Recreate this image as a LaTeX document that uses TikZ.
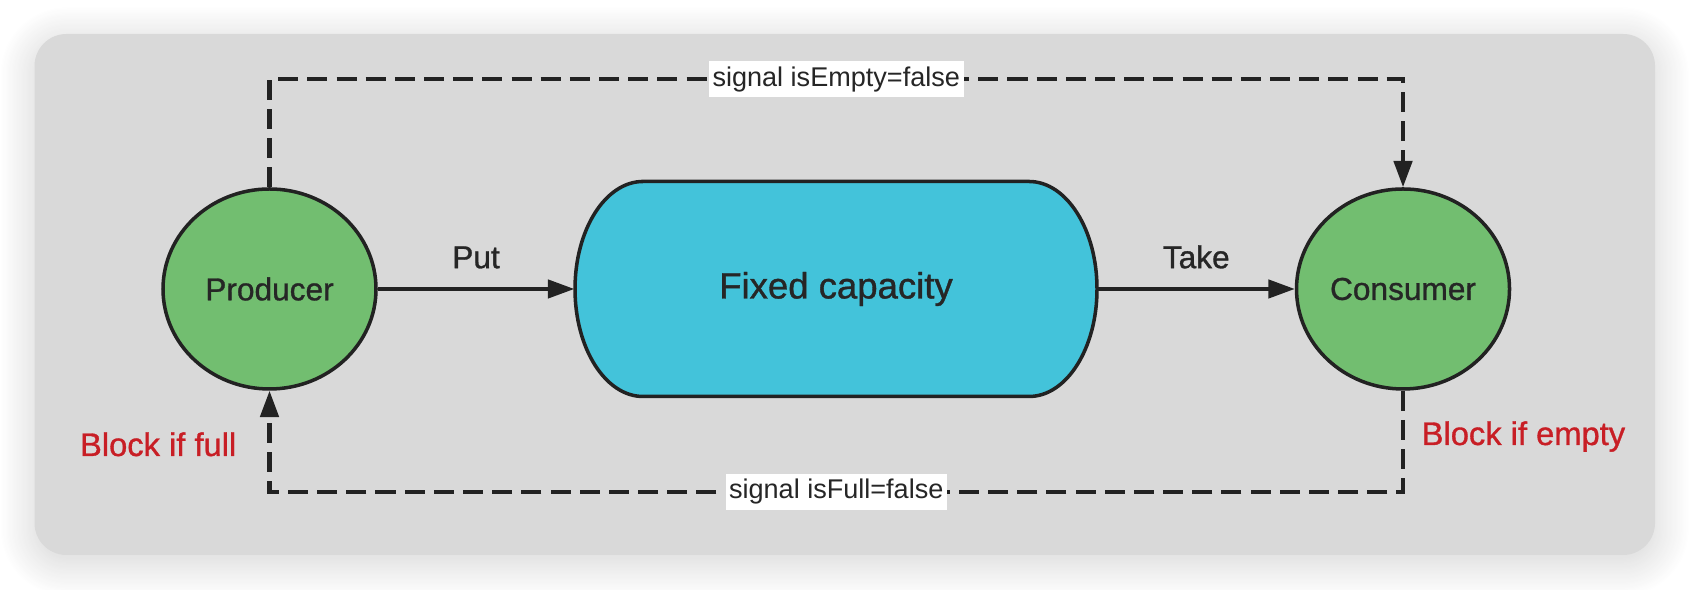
\documentclass[tikz,border=0pt]{standalone}
\usepackage{fontspec}
\setmainfont{Liberation Sans}
\newfontfamily\mediumfont{Liberation Sans}[FakeBold=1]
\usetikzlibrary{shapes.geometric,arrows.meta,shadows.blur}

\definecolor{bggrey}{HTML}{D9D9D9}
\definecolor{edge}{HTML}{222222}
\definecolor{txt}{HTML}{262626}
\definecolor{actorgreen}{HTML}{72BE70}
\definecolor{bufferblue}{HTML}{43C3DA}
\definecolor{warnred}{HTML}{C81E25}

\tikzset{
    actor/.style={ellipse, draw=edge, line width=1pt, fill=actorgreen,
        minimum width=2.13cm, minimum height=2cm, inner sep=0pt,
        text=txt, font=\mediumfont\fontsize{9}{11}\selectfont},
    bufferline/.style={draw=edge, line width=1pt, fill=bufferblue},
    flow/.style={draw=edge, line width=1pt, -{Triangle[length=7.5pt,width=5.2pt]}},
    signal/.style={draw=edge, line width=1.15pt, dash pattern=on 5.7pt off 2.6pt,
        -{Triangle[length=7.5pt,width=5.2pt]}},
    sigbox/.style={fill=white, text=txt, inner xsep=1pt, inner ysep=1.6pt,
        font=\fontsize{7.7}{9}\selectfont},
    edgetext/.style={text=txt, font=\mediumfont\fontsize{9}{11}\selectfont},
    blocktext/.style={text=warnred, inner sep=0pt, font=\mediumfont\fontsize{9.3}{11}\selectfont}
}

\begin{document}
\begin{tikzpicture}
    \useasboundingbox (0,0) rectangle (16.9,5.9);

    % Hintergrund mit Schatten
    \fill[bggrey, rounded corners=0.32cm,
        blur shadow={shadow xshift=0pt, shadow yshift=-2pt,
            shadow blur radius=10pt, shadow blur steps=30, shadow opacity=18}]
        (0.345,0.35) rectangle (16.55,5.56);

    % Erzeuger und Verbraucher
    \node[actor] (prod) at (2.695,3.01) {Producer};
    \node[actor] (cons) at (14.03,3.01) {Consumer};

    % Puffer mit fester Kapazitaet
    \draw[bufferline] (6.43,4.085) -- (10.29,4.085)
        arc[start angle=90, end angle=-90, x radius=0.68, y radius=1.075]
        -- (6.43,1.935)
        arc[start angle=270, end angle=90, x radius=0.68, y radius=1.075] -- cycle;
    \node[minimum width=5.22cm, minimum height=2.15cm, inner sep=0pt,
        text=txt, font=\mediumfont\fontsize{10.4}{12}\selectfont] (buf) at (8.36,3.01) {Fixed capacity};

    % Put und Take
    \draw[flow] (prod) -- node[above=2pt, edgetext] {Put} (buf);
    \draw[flow] (buf) -- node[above=2pt, edgetext] {Take} (cons);

    % Signale
    \draw[signal] (prod.north) -- ++(0,1.08)
        -| node[pos=0.25, sigbox] {signal isEmpty=false} (cons.north);
    \draw[signal] (cons.south) -- ++(0,-1.01)
        -| node[pos=0.25, sigbox] {signal isFull=false} (prod.south);

    % Blockieren
    \node[blocktext, anchor=base east] (fullnote) at (2.37,1.34) {Block if full};
    \node[blocktext, anchor=base west] (emptynote) at (14.21,1.45) {Block if empty};
\end{tikzpicture}
\end{document}
